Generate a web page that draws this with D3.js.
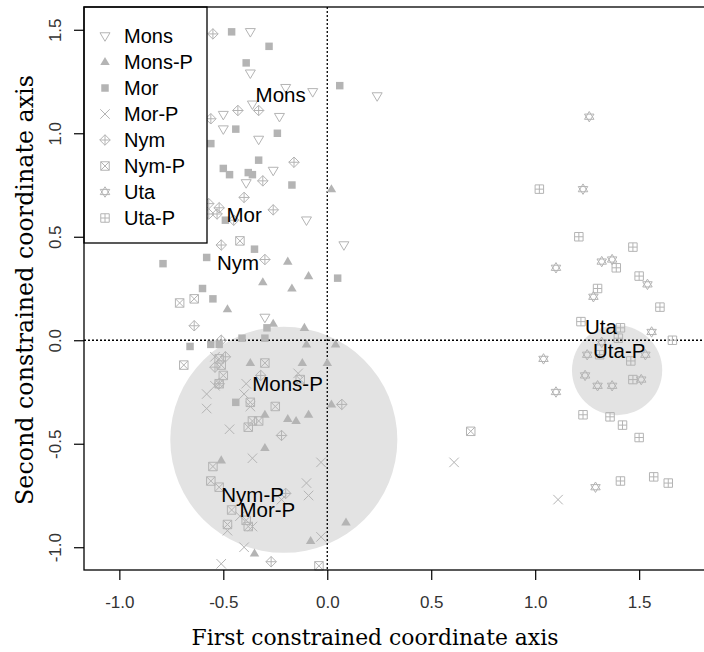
<!DOCTYPE html>
<html>
<head>
<meta charset="utf-8">
<script src="https://cdn.jsdelivr.net/npm/d3@7"></script>
<style>
  body { margin: 0; background: #fff; }
  svg { display: block; }
</style>
</head>
<body>
<div id="chart"></div>
<script>
// groups, in legend order
const groups = ["Mons", "Mons-P", "Mor", "Mor-P", "Nym", "Nym-P", "Uta", "Uta-P"];
const groupSymbols = ["triDown", "triUp", "square", "cross", "diamondPlus", "squareX", "star", "squarePlus"];

// site scores [axis 1, axis 2]
const monsScores = [[-0.37,1.49],[-0.37,1.29],[-0.20,1.22],[-0.07,1.20],[0.24,1.18],[-0.36,1.14],[-0.50,1.09],[-0.23,1.08],
  [-0.50,1.02],[-0.33,0.97],[-0.26,0.82],[-0.39,0.76],[-0.10,0.58],[0.08,0.46],[-0.30,0.11]];
const monsPScores = [[0.02,0.73],[-0.19,0.38],[-0.09,0.31],[-0.31,0.28],[-0.17,0.25],[-0.48,0.15],[-0.26,0.08],[-0.11,0.06],
  [-0.10,-0.02],[0.04,-0.02],[-0.37,-0.11],[-0.12,-0.11],[0.00,-0.11],[0.02,-0.31],[-0.30,-0.36],[-0.19,-0.38],
  [-0.15,-0.39],[-0.09,-0.36],[-0.30,-0.52],[-0.51,-0.58],[0.09,-0.88],[-0.08,-0.97],[-0.35,-1.03]];
const morScores = [[-0.46,1.49],[-0.28,1.42],[-0.39,1.34],[0.06,1.23],[-0.44,1.02],[-0.24,1.00],[-0.56,0.95],[-0.33,0.87],
  [-0.50,0.83],[-0.47,0.80],[-0.38,0.81],[-0.36,0.80],[-0.17,0.75],[-0.49,0.58],[-0.35,0.44],[-0.58,0.40],[-0.79,0.37],
  [0.05,0.30],[-0.60,0.25],[-0.55,0.20],[-0.29,0.06],[-0.41,0.01],[-0.30,0.01],[-0.66,-0.03],[-0.56,-0.02],[-0.52,-0.02],
  [-0.44,-0.30]];
const morPScores = [[-0.54,-0.08],[-0.14,-0.16],[-0.54,-0.22],[-0.58,-0.26],[-0.39,-0.21],[-0.40,-0.26],[-0.37,-0.32],
  [-0.58,-0.33],[-0.47,-0.43],[-0.36,-0.57],[-0.03,-0.59],[0.61,-0.59],[-0.10,-0.69],[-0.09,-0.75],[-0.22,-0.77],
  [-0.42,-0.85],[-0.36,-0.90],[-0.48,-0.92],[-0.40,-1.00],[-0.03,-0.95],[1.11,-0.77],[-0.51,-1.08]];
const nymScores = [[-0.55,1.48],[-0.43,1.11],[-0.33,1.11],[-0.56,1.07],[-0.16,0.86],[-0.31,0.77],[-0.40,0.69],[-0.57,0.66],
  [-0.52,0.64],[-0.53,0.61],[-0.57,0.61],[-0.45,0.58],[-0.26,0.63],[-0.51,0.46],[-0.30,0.39],[-0.64,0.07],[-0.51,0.00],
  [-0.49,-0.08],[-0.54,-0.13],[-0.52,-0.21],[-0.32,-0.17],[0.07,-0.31],[-0.22,-0.46],[-0.20,-0.74],[-0.27,-1.07]];
const nymPScores = [[-0.42,0.48],[-0.64,0.20],[-0.71,0.18],[-0.69,-0.12],[-0.52,-0.09],[-0.51,-0.12],[-0.30,-0.11],
  [-0.50,-0.17],[-0.13,-0.19],[-0.52,-0.21],[-0.37,-0.30],[-0.25,-0.32],[-0.36,-0.39],[-0.33,-0.39],[-0.38,-0.42],
  [0.69,-0.44],[-0.55,-0.61],[-0.56,-0.68],[-0.52,-0.71],[-0.46,-0.82],[-0.39,-0.87],[-0.38,-0.90],[-0.48,-0.89],
  [-0.04,-1.09]];
const utaScores = [[1.26,1.08],[1.23,0.73],[1.10,0.35],[1.32,0.38],[1.37,0.39],[1.54,0.27],[1.28,0.21],[1.56,0.04],
  [1.32,-0.01],[1.04,-0.09],[1.25,-0.07],[1.53,-0.07],[1.24,-0.17],[1.30,-0.22],[1.37,-0.22],[1.51,-0.19],
  [1.10,-0.25],[1.29,-0.71]];
const utaPScores = [[1.02,0.73],[1.21,0.50],[1.47,0.45],[1.39,0.35],[1.50,0.31],[1.30,0.25],[1.60,0.16],[1.22,0.09],
  [1.41,0.06],[1.40,0.01],[1.66,0.00],[1.31,-0.07],[1.46,-0.10],[1.47,-0.19],[1.23,-0.36],[1.36,-0.37],[1.42,-0.41],
  [1.50,-0.47],[1.57,-0.66],[1.64,-0.69],[1.41,-0.68]];
const groupScores = [monsScores, monsPScores, morScores, morPScores, nymScores, nymPScores, utaScores, utaPScores];

// group centroids (labels)
const centroidX = [-0.224, -0.191, -0.400, -0.288, -0.429, -0.359, 1.316, 1.404];
const centroidY = [1.188, -0.208, 0.609, -0.816, 0.374, -0.744, 0.066, -0.052];

// shaded circles
const circleX = [-0.209, 1.394];
const circleY = [-0.481, -0.145];
const circleR = [0.546, 0.217];

const xTicks = [-1.0, -0.5, 0.0, 0.5, 1.0, 1.5];
const yTicks = [-1.0, -0.5, 0.0, 0.5, 1.0, 1.5];

const width = 704, height = 652;
const plotLeft = 84, plotTop = 7, plotBottom = 570, plotRight = 714;
const pointColor = "#b4b4b4";

const x = d3.scaleLinear().domain([-1.17, 1.86]).range([plotLeft, plotRight]);
const y = d3.scaleLinear().domain([-1.11, 1.61]).range([plotBottom, plotTop]);

// R-like plotting characters as custom d3 symbol types
const pch = {
  triDown: { draw(c, s) { const r = Math.sqrt(s) / 2; c.moveTo(-r, -0.65 * r); c.lineTo(r, -0.65 * r); c.lineTo(0, 1.05 * r); c.closePath(); } },
  triUp: { draw(c, s) { const r = Math.sqrt(s) / 2; c.moveTo(-r, 0.65 * r); c.lineTo(r, 0.65 * r); c.lineTo(0, -1.05 * r); c.closePath(); } },
  square: { draw(c, s) { const r = Math.sqrt(s) / 2; c.rect(-r, -r, 2 * r, 2 * r); } },
  cross: { draw(c, s) { const r = Math.sqrt(s) / 2; c.moveTo(-r, -r); c.lineTo(r, r); c.moveTo(r, -r); c.lineTo(-r, r); } },
  diamondPlus: { draw(c, s) { const r = Math.sqrt(s) / 2; c.moveTo(0, -r); c.lineTo(r, 0); c.lineTo(0, r); c.lineTo(-r, 0); c.closePath();
    c.moveTo(0, -r); c.lineTo(0, r); c.moveTo(-r, 0); c.lineTo(r, 0); } },
  squareX: { draw(c, s) { const r = Math.sqrt(s) / 2; c.rect(-r, -r, 2 * r, 2 * r); c.moveTo(-r, -r); c.lineTo(r, r); c.moveTo(r, -r); c.lineTo(-r, r); } },
  star: { draw(c, s) { const r = Math.sqrt(s) / 2;
    c.moveTo(-r, 0.55 * r); c.lineTo(r, 0.55 * r); c.lineTo(0, -1.1 * r); c.closePath();
    c.moveTo(-r, -0.55 * r); c.lineTo(r, -0.55 * r); c.lineTo(0, 1.1 * r); c.closePath(); } },
  squarePlus: { draw(c, s) { const r = Math.sqrt(s) / 2; c.rect(-r, -r, 2 * r, 2 * r); c.moveTo(0, -r); c.lineTo(0, r); c.moveTo(-r, 0); c.lineTo(r, 0); } }
};
const filled = { triUp: true, square: true };
const symbolSize = { triDown: 100, triUp: 90, square: 56, cross: 90, diamondPlus: 110, squareX: 72, star: 90, squarePlus: 72 };

function styleSymbol(sel, name) {
  sel.attr("d", d3.symbol().type(pch[name]).size(symbolSize[name])())
    .attr("fill", filled[name] ? pointColor : "none")
    .attr("stroke", filled[name] ? "none" : pointColor)
    .attr("stroke-width", 1);
}

const svg = d3.select("#chart").append("svg")
  .attr("width", width)
  .attr("height", height);

const plot = svg.append("g");

// shaded circles behind everything
plot.selectAll(".blob")
  .data(circleX.map((cx, i) => ({ cx, cy: circleY[i], r: circleR[i] })))
  .enter().append("ellipse")
  .attr("cx", d => x(d.cx))
  .attr("cy", d => y(d.cy))
  .attr("rx", d => x(d.r) - x(0))
  .attr("ry", d => y(0) - y(d.r))
  .attr("fill", "#e3e3e3");

// dotted zero lines
plot.append("line")
  .attr("x1", x(0)).attr("x2", x(0)).attr("y1", plotTop).attr("y2", plotBottom)
  .attr("stroke", "#000").attr("stroke-width", 1.3).attr("stroke-dasharray", "2,2");
plot.append("line")
  .attr("x1", plotLeft).attr("x2", plotRight).attr("y1", y(0)).attr("y2", y(0))
  .attr("stroke", "#000").attr("stroke-width", 1.3).attr("stroke-dasharray", "2,2");

// points
groups.forEach((g, i) => {
  plot.selectAll(null)
    .data(groupScores[i])
    .enter().append("path")
    .attr("transform", d => `translate(${x(d[0])},${y(d[1])})`)
    .call(styleSymbol, groupSymbols[i]);
});

// centroid labels
plot.selectAll(".centroid")
  .data(groups)
  .enter().append("text")
  .attr("x", (d, i) => x(centroidX[i]))
  .attr("y", (d, i) => y(centroidY[i]))
  .attr("dy", "0.36em")
  .attr("text-anchor", "middle")
  .attr("font-family", "Liberation Sans, Arial, sans-serif")
  .attr("font-size", 20.5)
  .attr("fill", "#000")
  .text(d => d);

// legend
const legend = svg.append("g");
legend.append("rect")
  .attr("x", plotLeft).attr("y", plotTop)
  .attr("width", 123).attr("height", 236)
  .attr("fill", "#fff").attr("stroke", "#000").attr("stroke-width", 1.3);
const rows = legend.selectAll(".row")
  .data(groups)
  .enter().append("g")
  .attr("transform", (d, i) => `translate(${plotLeft + 21},${plotTop + 29 + i * 26})`);
rows.append("path").each(function (d, i) { d3.select(this).call(styleSymbol, groupSymbols[i]); });
rows.append("text")
  .attr("x", 19)
  .attr("dy", "0.36em")
  .attr("font-family", "Liberation Sans, Arial, sans-serif")
  .attr("font-size", 20)
  .text(d => d);

// box
svg.append("rect")
  .attr("x", plotLeft).attr("y", plotTop)
  .attr("width", plotRight - plotLeft).attr("height", plotBottom - plotTop)
  .attr("fill", "none").attr("stroke", "#000").attr("stroke-width", 1.3);

// axes
const xAxis = svg.append("g")
  .attr("transform", `translate(0,${plotBottom})`)
  .call(d3.axisBottom(x).tickValues(xTicks).tickSize(10).tickPadding(16).tickFormat(d => d.toFixed(1)));
const yAxis = svg.append("g")
  .attr("transform", `translate(${plotLeft},0)`)
  .call(d3.axisLeft(y).tickValues(yTicks).tickSize(10).tickFormat(d => d.toFixed(1)));
[xAxis, yAxis].forEach(a => {
  a.select(".domain").remove();
  a.selectAll("line").attr("stroke", "#000").attr("stroke-width", 1.2);
  a.selectAll("text")
    .attr("font-family", "Liberation Sans, Arial, sans-serif")
    .attr("font-size", 17)
    .attr("fill", "#333");
});
yAxis.selectAll("text")
  .attr("x", null).attr("dy", null)
  .attr("text-anchor", "middle")
  .attr("transform", "translate(-23,0) rotate(-90)");

// axis titles, stretched to the width seen in the picture
function fitTitle(sel, target) {
  const w = sel.node().getComputedTextLength();
  sel.attr("font-size", 20 * target / w);
}
svg.append("text")
  .attr("x", 375).attr("y", 645)
  .attr("text-anchor", "middle")
  .attr("font-family", "DejaVu Serif, serif")
  .attr("font-size", 20)
  .text("First constrained coordinate axis")
  .call(fitTitle, 367);
svg.append("text")
  .attr("transform", `translate(33,${290}) rotate(-90)`)
  .attr("text-anchor", "middle")
  .attr("font-family", "DejaVu Serif, serif")
  .attr("font-size", 20)
  .text("Second constrained coordinate axis")
  .call(fitTitle, 430);
</script>
</body>
</html>
